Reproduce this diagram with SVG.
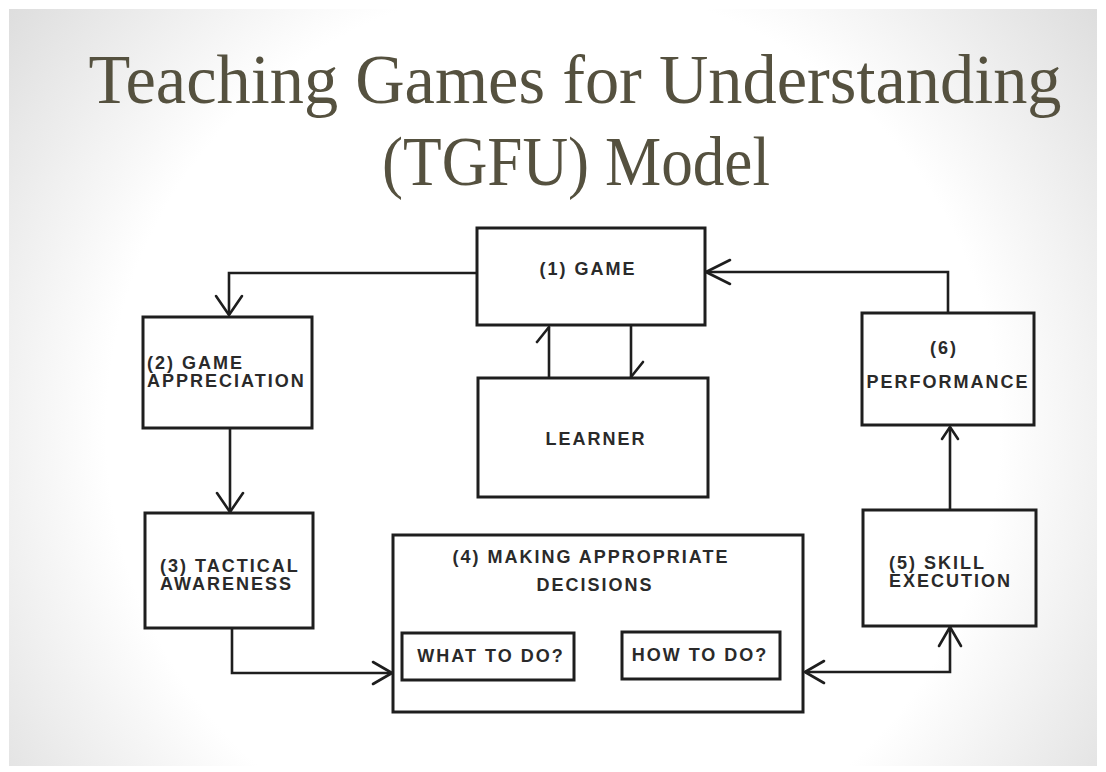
<svg xmlns="http://www.w3.org/2000/svg" width="1106" height="772" viewBox="0 0 1106 772">
  <defs>
    <radialGradient id="bg" gradientUnits="userSpaceOnUse" cx="553" cy="430" r="720">
      <stop offset="0" stop-color="#ffffff"/>
      <stop offset="0.62" stop-color="#ffffff"/>
      <stop offset="1" stop-color="#d9d9d9"/>
    </radialGradient>
    <marker id="big" markerUnits="userSpaceOnUse" viewBox="-22 -16 26 32" refX="0" refY="0" markerWidth="26" markerHeight="32" orient="auto-start-reverse" overflow="visible">
      <path d="M-19,-13 L0,0 L-19,13" class="head"/>
    </marker>
    <marker id="med" markerUnits="userSpaceOnUse" viewBox="-24 -14 28 28" refX="0" refY="0" markerWidth="28" markerHeight="28" orient="auto-start-reverse" overflow="visible">
      <path d="M-19,-11 L0,0 L-19,11" class="head"/>
    </marker>
    <marker id="long" markerUnits="userSpaceOnUse" viewBox="-28 -15 32 30" refX="0" refY="0" markerWidth="32" markerHeight="30" orient="auto-start-reverse" overflow="visible">
      <path d="M-24,-12 L0,0 L-24,12" class="head"/>
    </marker>
    <marker id="small" markerUnits="userSpaceOnUse" viewBox="-16 -11 20 22" refX="0" refY="0" markerWidth="20" markerHeight="22" orient="auto-start-reverse" overflow="visible">
      <path d="M-12,-8 L0,0 L-12,8" class="head"/>
    </marker>
    <marker id="half" markerUnits="userSpaceOnUse" viewBox="-18 -15 22 19" refX="0" refY="0" markerWidth="22" markerHeight="19" orient="auto" overflow="visible">
      <path d="M-15,-12 L0,0" class="head"/>
    </marker>
  </defs>
  <style>
    .box { fill: none; stroke: #1e1e1e; stroke-width: 3; }
    .lbl { font-family: "Liberation Sans", Arial, sans-serif; font-weight: bold; font-size: 18px; letter-spacing: 2px; fill: #2a2a2a; }
    .mid { text-anchor: middle; }
    .title { font-family: "Liberation Serif", "Times New Roman", serif; font-size: 69px; fill: #55513f; text-anchor: middle; }
    .conn { fill: none; stroke: #1e1e1e; stroke-width: 2.6; }
    .head { fill: none; stroke: #1e1e1e; stroke-width: 2.6; stroke-linecap: round; stroke-linejoin: round; }
  </style>

  <rect x="0" y="0" width="1106" height="772" fill="#ffffff"/>
  <rect x="9" y="9" width="1088" height="757" fill="url(#bg)"/>

  <g id="title">
    <text class="title" x="575" y="103" textLength="973" lengthAdjust="spacingAndGlyphs">Teaching Games for Understanding</text>
    <text class="title" x="576" y="185" textLength="388" lengthAdjust="spacingAndGlyphs">(TGFU) Model</text>
  </g>

  <g id="connectors">
    <path class="conn" d="M477,273 H229 V315" marker-end="url(#big)"/>
    <path class="conn" d="M230,428 V512" marker-end="url(#big)"/>
    <path class="conn" d="M232,628 V673 H392" marker-end="url(#med)"/>
    <path class="conn" d="M805,672 H950 V627" marker-start="url(#med)" marker-end="url(#med)"/>
    <path class="conn" d="M950,510 V427" marker-end="url(#small)"/>
    <path class="conn" d="M948,313 V272 H706" marker-end="url(#long)"/>
    <path class="conn" d="M549,378 V327" marker-end="url(#half)"/>
    <path class="conn" d="M631,325 V377" marker-end="url(#half)"/>
  </g>

  <g id="game">
    <rect class="box" x="477" y="228" width="228" height="97"/>
    <text class="lbl mid" x="588" y="275">(1) GAME</text>
  </g>

  <g id="learner">
    <rect class="box" x="478" y="378" width="230" height="119"/>
    <text class="lbl mid" x="596" y="445">LEARNER</text>
  </g>

  <g id="game-appreciation">
    <rect class="box" x="143" y="317" width="169" height="111"/>
    <text class="lbl" x="147" y="369">(2) GAME</text>
    <text class="lbl" x="147" y="387">APPRECIATION</text>
  </g>

  <g id="tactical-awareness">
    <rect class="box" x="145" y="513" width="168" height="115"/>
    <text class="lbl" x="160" y="572">(3) TACTICAL</text>
    <text class="lbl" x="160" y="590">AWARENESS</text>
  </g>

  <g id="decisions">
    <rect class="box" x="393" y="535" width="410" height="177"/>
    <text class="lbl mid" x="591" y="563">(4) MAKING APPROPRIATE</text>
    <text class="lbl mid" x="595" y="591">DECISIONS</text>
  </g>

  <g id="what-to-do">
    <rect class="box" x="402" y="633" width="172" height="47"/>
    <text class="lbl mid" x="491" y="662">WHAT TO DO?</text>
  </g>

  <g id="how-to-do">
    <rect class="box" x="622" y="632" width="158" height="47"/>
    <text class="lbl mid" x="700" y="661">HOW TO DO?</text>
  </g>

  <g id="skill-execution">
    <rect class="box" x="863" y="510" width="173" height="116"/>
    <text class="lbl" x="889" y="569">(5) SKILL</text>
    <text class="lbl" x="889" y="587">EXECUTION</text>
  </g>

  <g id="performance">
    <rect class="box" x="862" y="313" width="172" height="112"/>
    <text class="lbl mid" x="944" y="354">(6)</text>
    <text class="lbl mid" x="948" y="388">PERFORMANCE</text>
  </g>
</svg>
